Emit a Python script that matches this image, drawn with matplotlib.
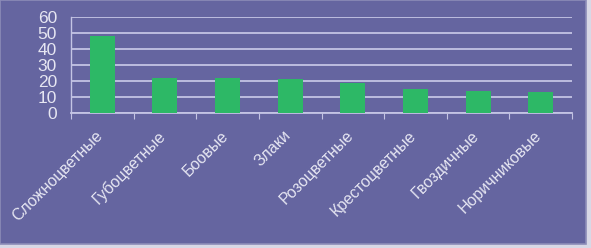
import matplotlib
matplotlib.use("Agg")
import matplotlib.pyplot as plt
from matplotlib.patches import Rectangle

families = ["Сложноцветные", "Губоцветные", "Боовые", "Злаки",
            "Розоцветные", "Крестоцветные", "Гвоздичные", "Норичниковые"]
counts = [48, 22, 22, 21, 19, 15, 14, 13]
yticks = [0, 10, 20, 30, 40, 50, 60]

bg = "#6565a0"
grid = "#c4c4e4"
txt = "#e6e6f2"
plt.rcParams["font.family"] = ["Liberation Sans", "DejaVu Sans"]

fig = plt.figure(figsize=(5.91, 2.48), dpi=100)
fig.patch.set_facecolor("#d8d8e6")
# panel background with light frame at the right and bottom
fig.patches.append(Rectangle((0, 0.015), 0.991, 0.985, transform=fig.transFigure,
                             facecolor=bg, edgecolor="#8c8cb8", linewidth=1.2, zorder=-1))

ax = fig.add_axes([0.120, 0.544, 0.848, 0.387])
ax.set_facecolor(bg)

x = range(len(families))
ax.bar(x, counts, width=0.4, color="#2db866", zorder=3)

ax.set_xlim(-0.5, len(families) - 0.5)
ax.set_ylim(0, 60)
ax.set_yticks(yticks)
ax.set_yticklabels([str(v) for v in yticks], color=txt, fontsize=12.5)
ax.yaxis.grid(True, color=grid, linewidth=1.3, zorder=1)
ax.tick_params(axis="y", length=0, pad=10)

ax.set_xticks([i + 0.5 for i in range(-1, len(families))])
ax.set_xticklabels([])
ax.tick_params(axis="x", length=4, color=grid, direction="out")
for i, name in enumerate(families):
    ax.text(i - 0.03, -12.5, name, rotation=45, ha="right", va="center",
            rotation_mode="anchor", color=txt, fontsize=11.5, clip_on=False)

for side in ["top", "right"]:
    ax.spines[side].set_visible(False)
ax.spines["left"].set_color(grid)
ax.spines["bottom"].set_color(grid)
ax.spines["left"].set_linewidth(1.0)
ax.spines["bottom"].set_linewidth(1.3)

fig.savefig("out.png", dpi=100, facecolor=fig.get_facecolor())
